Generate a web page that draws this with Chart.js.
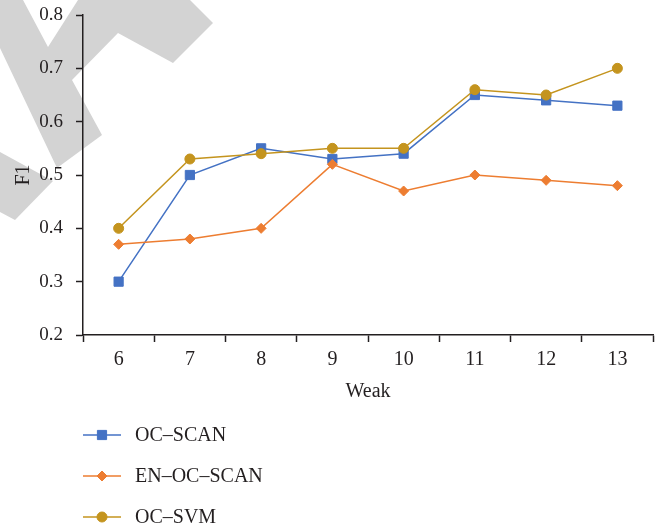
<!DOCTYPE html>
<html>
<head>
<meta charset="utf-8">
<script src="https://cdn.jsdelivr.net/npm/chart.js@4/dist/chart.umd.min.js"></script>
<style>
  html, body { margin: 0; padding: 0; background: #ffffff; }
  #wrap { width: 668px; height: 531px; position: relative; }
</style>
</head>
<body>
<div id="wrap"><canvas id="c" width="668" height="531"></canvas></div>
<script>
// Weeks on the x axis
const weeks = ['6', '7', '8', '9', '10', '11', '12', '13'];

// F1 score per week for each method
const ocScan   = [0.30, 0.50, 0.55, 0.53, 0.54, 0.65, 0.64, 0.63];
const enOcScan = [0.37, 0.38, 0.40, 0.52, 0.47, 0.50, 0.49, 0.48];
const ocSvm    = [0.40, 0.53, 0.54, 0.55, 0.55, 0.66, 0.65, 0.70];

// Y axis tick values
const yTicks = [0.2, 0.3, 0.4, 0.5, 0.6, 0.7, 0.8];

const seriesNames = ['OC\u2013SCAN', 'EN\u2013OC\u2013SCAN', 'OC\u2013SVM'];

const FONT = '"Liberation Serif", "DejaVu Serif", serif';
const INK = '#231f20';

const BLUE = '#4472c4';
const ORANGE = '#ed7d31';
const GOLD = '#c4941e';

// Light grey stamp shapes painted behind everything
const stampShapes = [
  [[0,0],[23,0],[48,47],[78,0],[190,0],[213,23],[173,63],[118,33],[72,80],[102,135],[57,168],[0,48]],
  [[0,152],[53,181],[15,220],[0,212]]
];

const backdrop = {
  id: 'backdrop',
  beforeDraw(chart) {
    const ctx = chart.ctx;
    ctx.save();
    ctx.fillStyle = '#ffffff';
    ctx.fillRect(0, 0, chart.width, chart.height);
    ctx.fillStyle = '#d3d3d3';
    stampShapes.forEach(poly => {
      ctx.beginPath();
      poly.forEach(([x, y], i) => i ? ctx.lineTo(x, y) : ctx.moveTo(x, y));
      ctx.closePath();
      ctx.fill();
    });
    ctx.restore();
  }
};

// Vertical legend under the plot: line sample with marker, then name
const stackedLegend = {
  id: 'stackedLegend',
  afterDraw(chart) {
    const ctx = chart.ctx;
    const x0 = 83, x1 = 121, textX = 135;
    const rows = [435, 476, 517];
    ctx.save();
    chart.data.datasets.forEach((ds, i) => {
      const y = rows[i];
      ctx.strokeStyle = ds.borderColor;
      ctx.lineWidth = ds.borderWidth;
      ctx.beginPath();
      ctx.moveTo(x0, y);
      ctx.lineTo(x1, y);
      ctx.stroke();
      ctx.fillStyle = ds.pointBackgroundColor;
      ctx.strokeStyle = ds.pointBorderColor;
      ctx.lineWidth = 1;
      Chart.helpers.drawPoint(ctx, {
        pointStyle: ds.pointStyle,
        radius: ds.pointRadius,
        rotation: 0,
        borderWidth: 1
      }, (x0 + x1) / 2, y);
      ctx.fillStyle = INK;
      ctx.font = '20px ' + FONT;
      ctx.textAlign = 'left';
      ctx.textBaseline = 'middle';
      ctx.fillText(ds.label, textX, y + 1);
    });
    ctx.restore();
  }
};

function series(label, data, color, style, radius, order) {
  return {
    label, data, order,
    borderColor: color,
    backgroundColor: color,
    borderWidth: 1.5,
    pointStyle: style,
    pointRadius: radius,
    pointHoverRadius: radius,
    pointBackgroundColor: color,
    pointBorderColor: color,
    pointBorderWidth: 1,
    tension: 0,
    fill: false
  };
}

new Chart(document.getElementById('c'), {
  type: 'line',
  data: {
    labels: weeks,
    datasets: [
      series(seriesNames[0], ocScan, BLUE, 'rect', 6.5, 2),
      series(seriesNames[1], enOcScan, ORANGE, 'rectRot', 5, 1),
      series(seriesNames[2], ocSvm, GOLD, 'circle', 5, 0)
    ]
  },
  options: {
    responsive: false,
    animation: false,
    events: [],
    layout: { padding: { left: 0, top: 15, right: 15, bottom: 127 } },
    plugins: {
      legend: { display: false },
      tooltip: { enabled: false }
    },
    scales: {
      x: {
        offset: true,
        grid: {
          offset: true,
          drawOnChartArea: false,
          drawTicks: true,
          tickLength: 7,
          tickColor: INK,
          tickWidth: 1.5
        },
        border: { color: INK, width: 1.5 },
        ticks: {
          color: INK,
          padding: 6,
          maxRotation: 0,
          font: { family: FONT, size: 20 }
        },
        title: {
          display: true,
          text: 'Weak',
          color: INK,
          padding: { top: 0, bottom: 0 },
          font: { family: FONT, size: 20 }
        },
        afterFit(scale) {
          scale.height = 69;
          scale.paddingLeft = 0;
          scale.paddingRight = 0;
        }
      },
      y: {
        min: 0.2,
        max: 0.8,
        afterBuildTicks(scale) { scale.ticks = yTicks.map(v => ({ value: v })); },
        grid: {
          drawOnChartArea: false,
          drawTicks: true,
          tickLength: 7,
          tickColor: INK,
          tickWidth: 1.5
        },
        border: { color: INK, width: 1.5 },
        ticks: {
          color: INK,
          padding: 13,
          font: { family: FONT, size: 19 },
          callback: v => Number(v).toFixed(1)
        },
        title: {
          display: true,
          text: 'F1',
          color: INK,
          padding: { top: 12, bottom: 12 },
          font: { family: FONT, size: 20 }
        },
        afterFit(scale) {
          scale.width = 83;
          scale.paddingTop = 0;
          scale.paddingBottom = 0;
        }
      }
    }
  },
  plugins: [backdrop, stackedLegend]
});
</script>
</body>
</html>
